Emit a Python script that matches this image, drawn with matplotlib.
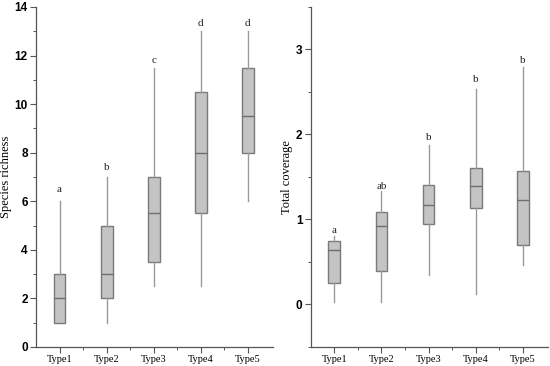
import matplotlib
matplotlib.use("Agg")
import matplotlib.pyplot as plt
from matplotlib.ticker import MultipleLocator

categories = ["Type1", "Type2", "Type3", "Type4", "Type5"]

# Species richness: min, q1, median, q3, max
sr_min = [1, 1, 2.5, 2.5, 6]
sr_q1 = [1, 2, 3.5, 5.5, 8]
sr_med = [2, 3, 5.5, 8, 9.5]
sr_q3 = [3, 5, 7, 10.5, 11.5]
sr_max = [6, 7, 11.5, 13, 13]
sr_letters = ["a", "b", "c", "d", "d"]
sr_letter_y = [6.5, 7.4, 11.8, 13.3, 13.3]

# Total coverage
tc_min = [0.03, 0.03, 0.35, 0.12, 0.46]
tc_q1 = [0.25, 0.39, 0.95, 1.14, 0.70]
tc_med = [0.64, 0.92, 1.17, 1.39, 1.23]
tc_q3 = [0.75, 1.09, 1.41, 1.61, 1.575]
tc_max = [0.80, 1.33, 1.88, 2.54, 2.79]
tc_letters = ["a", "ab", "b", "b", "b"]
tc_letter_y = [0.87, 1.39, 1.97, 2.65, 2.87]

fig = plt.figure(figsize=(5.5, 3.66), dpi=100)
ax1 = fig.add_axes([0.0655, 0.052, 0.4305, 0.929])
ax2 = fig.add_axes([0.565, 0.052, 0.431, 0.929])

serif = "Liberation Serif"
sans = "Liberation Sans"

def draw(ax, mins, q1s, meds, q3s, maxs, letters, ly, ylim, major, minor, ylabel):
    stats = []
    for i in range(len(categories)):
        stats.append(dict(whislo=mins[i], q1=q1s[i], med=meds[i], q3=q3s[i], whishi=maxs[i], label=categories[i]))
    pos = list(range(1, len(categories) + 1))
    ax.bxp(stats, positions=pos, widths=0.25, showfliers=False, showcaps=False, patch_artist=True,
           boxprops=dict(facecolor="#c4c4c4", edgecolor="#7a7a7a", linewidth=1.0),
           medianprops=dict(color="#6e6e6e", linewidth=1.0),
           whiskerprops=dict(color="#9a9a9a", linewidth=1.0))
    for p, t, y in zip(pos, letters, ly):
        ax.text(p, y, t, ha="center", va="center", fontsize=8, family=serif, color="#222222")
    ax.set_xlim(0.5, 5.53)
    ax.set_ylim(*ylim)
    ax.yaxis.set_major_locator(MultipleLocator(major))
    ax.yaxis.set_minor_locator(MultipleLocator(minor))
    ax.set_xticks(pos)
    ax.set_xticks([1.5, 2.5, 3.5, 4.5], minor=True)
    ax.set_xticklabels(categories, family=serif, fontsize=7.5)
    for lab in ax.get_yticklabels():
        lab.set_family(sans)
        lab.set_fontweight("bold")
        lab.set_fontsize(8.5)
    ax.spines["top"].set_visible(False)
    ax.spines["right"].set_visible(False)
    for s in ("left", "bottom"):
        ax.spines[s].set_color("#555555")
        ax.spines[s].set_linewidth(0.9)
    ax.tick_params(which="major", direction="out", length=4, width=0.8, color="#555555", pad=2)
    ax.tick_params(which="minor", direction="out", length=2.5, width=0.7, color="#555555")
    ax.set_ylabel(ylabel, family=serif, fontsize=9, labelpad=2)

draw(ax1, sr_min, sr_q1, sr_med, sr_q3, sr_max, sr_letters, sr_letter_y, (0, 14), 2, 1, "Species richness")
draw(ax2, tc_min, tc_q1, tc_med, tc_q3, tc_max, tc_letters, tc_letter_y, (-0.5, 3.5), 1, 0.5, "Total coverage")

fig.savefig("out.png", dpi=100)
